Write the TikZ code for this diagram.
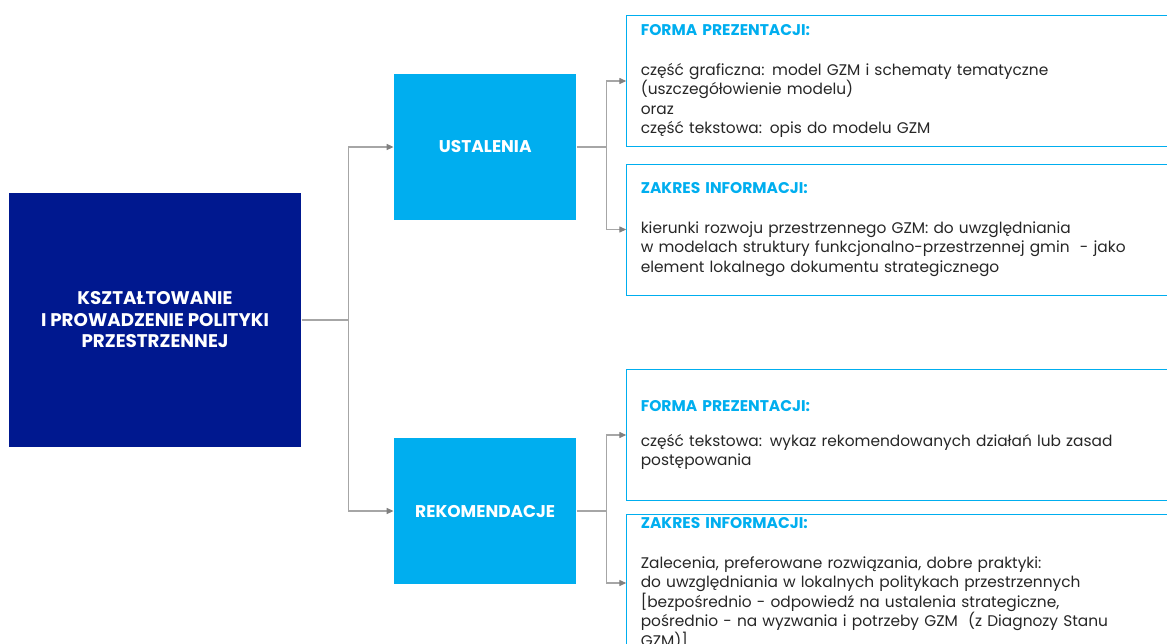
\documentclass[tikz,border=0pt]{standalone}
\usepackage{fontspec}
\setmainfont{Poppins}
\usetikzlibrary{arrows.meta, positioning}
\definecolor{cnavy}{HTML}{00188F}
\definecolor{ccyan}{HTML}{00AEEF}
\definecolor{cline}{HTML}{A6A6A6}
\definecolor{ctip}{HTML}{808080}
\definecolor{ctext}{HTML}{262626}
\tikzset{
  every picture/.style={line width=1.2pt},
  mainbox/.style={fill=cnavy, text=white, font=\bfseries\fontsize{18.3}{21.5}\selectfont, align=center, minimum width=292pt, minimum height=254pt},
  midbox/.style={fill=ccyan, text=white, font=\bfseries\fontsize{17}{20}\selectfont, minimum width=182pt, minimum height=146pt},
  infobox/.style={draw=ccyan, line width=1pt, text=ctext, font=\fontsize{15.4}{19.5}\selectfont, align=left, text width=520pt, inner xsep=14pt, inner ysep=3pt, minimum height=131pt},
  arrow/.style={-{Triangle[length=7pt, width=6pt, color=ctip]}, draw=cline, line width=1.3pt},
}
\newcommand{\infohead}[1]{{\color{ccyan}\bfseries\fontsize{15.5}{15}\selectfont #1}}

\begin{document}
\begin{tikzpicture}[x=1pt, y=-1pt]
  \useasboundingbox (0,0) rectangle (1167,643);
  \node[mainbox] (main) at (155,320) {KSZTAŁTOWANIE\\I PROWADZENIE POLITYKI\\PRZESTRZENNEJ};
  \node[midbox, right=92pt of main, yshift=173pt] (ust) {USTALENIA};
  \node[midbox, right=92pt of main, yshift=-191pt] (rek) {REKOMENDACJE};
  \draw[arrow] (main.east) -- ++(47pt,0) |- (ust);
  \draw[arrow] (main.east) -- ++(47pt,0) |- (rek);
  % ustalenia
  \node[infobox, right=49.5pt of ust, yshift=66pt] (ustforma) {\infohead{FORMA PREZENTACJI:}\\[20.5pt]
    część graficzna: model GZM i schematy tematyczne\\
    (uszczegółowienie modelu)\\
    oraz\\
    część tekstowa: opis do modelu GZM};
  \node[infobox, right=49.5pt of ust, yshift=-82.5pt] (ustzakres) {\infohead{ZAKRES INFORMACJI:}\\[20.5pt]
    kierunki rozwoju przestrzennego GZM: do uwzględniania\\
    w modelach struktury funkcjonalno-przestrzennej gmin\ \ - jako\\
    element lokalnego dokumentu strategicznego};
  \draw[arrow] (ust.east) -- ++(30pt,0) |- (ustforma);
  \draw[arrow] (ust.east) -- ++(30pt,0) |- (ustzakres);
  % rekomendacje
  \node[infobox, right=49.5pt of rek, yshift=76pt] (rekforma) {\infohead{FORMA PREZENTACJI:}\\[15pt]
    część tekstowa: wykaz rekomendowanych działań lub zasad\\
    postępowania};
  \node[infobox, right=49.5pt of rek, yshift=-72pt] (rekzakres) {\infohead{ZAKRES INFORMACJI:}\\[20.5pt]
    Zalecenia, preferowane rozwiązania, dobre praktyki:\\
    do uwzględniania w lokalnych politykach przestrzennych\\
    {[}bezpośrednio - odpowiedź na ustalenia strategiczne,\\
    pośrednio - na wyzwania i potrzeby GZM\ \ (z Diagnozy Stanu\\
    GZM)]};
  \draw[arrow] (rek.east) -- ++(30pt,0) |- (rekforma);
  \draw[arrow] (rek.east) -- ++(30pt,0) |- (rekzakres);
\end{tikzpicture}
\end{document}
